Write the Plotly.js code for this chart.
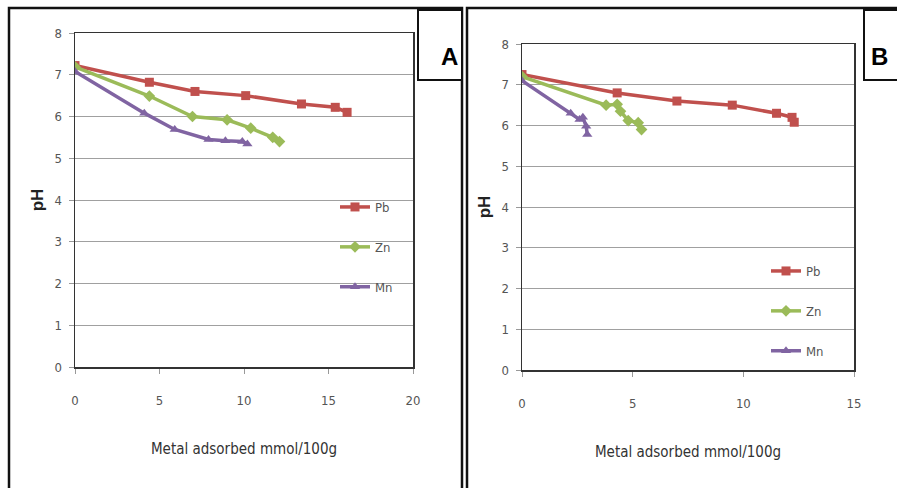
<!DOCTYPE html>
<html>
<head>
<meta charset="utf-8">
<script src="https://cdn.plot.ly/plotly-3.0.1.min.js"></script>
<style>html,body{margin:0;padding:0;background:#fff;}#chart{width:897px;height:488px;}</style>
</head>
<body>
<div id="chart"></div>
<script>
// ---- Data ----
const seriesNames = ["Pb", "Zn", "Mn"];
const seriesColors = ["#C0504D", "#9BBB59", "#8064A2"];
const seriesSymbols = ["square", "diamond", "triangle-up"];

// Panel A
const pbA_x = [0, 4.4, 7.1, 10.1, 13.4, 15.4, 16.1];
const pbA_y = [7.22, 6.82, 6.6, 6.5, 6.3, 6.22, 6.1];
const znA_x = [0, 4.4, 6.95, 9.0, 10.4, 11.7, 12.1];
const znA_y = [7.19, 6.49, 6.0, 5.92, 5.72, 5.5, 5.4];
const mnA_x = [0, 4.1, 5.9, 7.9, 8.9, 9.9, 10.2];
const mnA_y = [7.08, 6.08, 5.69, 5.45, 5.42, 5.4, 5.34];

// Panel B
const pbB_x = [0, 4.3, 7.0, 9.5, 11.5, 12.2, 12.3];
const pbB_y = [7.25, 6.8, 6.6, 6.5, 6.3, 6.2, 6.08];
const znB_x = [0, 3.8, 4.3, 4.45, 4.8, 5.25, 5.4];
const znB_y = [7.2, 6.5, 6.52, 6.35, 6.12, 6.07, 5.9];
const mnB_x = [0, 2.2, 2.6, 2.75, 2.9, 2.95];
const mnB_y = [7.1, 6.3, 6.15, 6.2, 5.98, 5.78];

const xTitle = "Metal adsorbed mmol/100g";
const yTitle = "pH";
const panelLabels = ["A", "B"];

// ---- Layout helpers ----
const W = 897, H = 488;
const px = x => x / W;
const py = y => 1 - y / H;
const FONT = "'Liberation Sans Narrow', 'DejaVu Sans Condensed', 'Liberation Sans', sans-serif";

function mk(xs, ys, i, ax, lg, show) {
  return {
    x: xs, y: ys, name: seriesNames[i], type: "scatter", mode: "lines+markers",
    xaxis: ax.x, yaxis: ax.y, legend: lg, legendgroup: lg + seriesNames[i], showlegend: show,
    line: {color: seriesColors[i], width: 3.5},
    marker: {symbol: seriesSymbols[i], size: 9, color: seriesColors[i]}
  };
}
const axA = {x: "x", y: "y"}, axB = {x: "x2", y: "y2"};
const data = [
  mk(pbA_x, pbA_y, 0, axA, "legend", true),
  mk(znA_x, znA_y, 1, axA, "legend", true),
  mk(mnA_x, mnA_y, 2, axA, "legend", true),
  mk(pbB_x, pbB_y, 0, axB, "legend2", true),
  mk(znB_x, znB_y, 1, axB, "legend2", true),
  mk(mnB_x, mnB_y, 2, axB, "legend2", true)
];

function xax(domain, range, anchor) {
  return {
    domain: domain, range: range, anchor: anchor, dtick: 5, tick0: 0,
    showgrid: false, zeroline: false, showline: true, mirror: true,
    linecolor: "#333", linewidth: 1.5, ticks: "outside", ticklen: 5, tickcolor: "#999",
    ticklabelstandoff: 16,
    tickfont: {family: FONT, size: 13, color: "#555"},
    title: {text: xTitle, font: {family: FONT, size: 15, color: "#333"}, standoff: 36},
    automargin: false, fixedrange: true
  };
}
function yax(domain, anchor) {
  return {
    domain: domain, range: [0, 8], anchor: anchor, dtick: 1, tick0: 0,
    showgrid: true, gridcolor: "#a0a0a0", gridwidth: 1, zeroline: false,
    showline: true, mirror: true, linecolor: "#333", linewidth: 1.5,
    ticks: "outside", ticklen: 5, tickcolor: "#999", ticklabelstandoff: 4,
    tickfont: {family: FONT, size: 13, color: "#555"},
    title: {text: yTitle, font: {family: "'Liberation Sans', Arial, sans-serif", size: 17, color: "#222", weight: "bold"}, standoff: 6},
    automargin: false, fixedrange: true
  };
}

const legendCommon = {
  bgcolor: "rgba(0,0,0,0)", borderwidth: 0, itemwidth: 30, tracegroupgap: 20,
  font: {family: FONT, size: 13, color: "#555"}, xanchor: "left", yanchor: "top"
};

const layout = {
  width: W, height: H, margin: {l: 0, r: 0, t: 0, b: 0},
  paper_bgcolor: "#fff", plot_bgcolor: "#fff",
  showlegend: true,
  xaxis: xax([px(75), px(413)], [0, 20], "y"),
  yaxis: yax([py(367), py(33)], "x"),
  xaxis2: xax([px(522), px(854)], [0, 15], "y2"),
  yaxis2: yax([py(370), py(44)], "x2"),
  legend: Object.assign({}, legendCommon, {x: px(335), y: py(192)}),
  legend2: Object.assign({}, legendCommon, {x: px(766), y: py(256)}),
  shapes: [
    // outer frame panel A
    {type: "rect", xref: "paper", yref: "paper", x0: px(9), x1: px(462), y0: py(500), y1: py(8), line: {color: "#111", width: 2.5}},
    // outer frame panel B
    {type: "rect", xref: "paper", yref: "paper", x0: px(467), x1: px(905), y0: py(500), y1: py(8), line: {color: "#111", width: 2.5}},
    // label boxes
    {type: "rect", xref: "paper", yref: "paper", x0: px(418), x1: px(462), y0: py(80), y1: py(10), line: {color: "#111", width: 2}, fillcolor: "#fff"},
    {type: "rect", xref: "paper", yref: "paper", x0: px(864), x1: px(905), y0: py(80), y1: py(10), line: {color: "#111", width: 2}, fillcolor: "#fff"}
  ],
  annotations: [
    {text: "<b>" + panelLabels[0] + "</b>", xref: "paper", yref: "paper", x: px(449), y: py(41), showarrow: false,
     font: {family: "'Liberation Sans', Arial, sans-serif", size: 24, color: "#000"}},
    {text: "<b>" + panelLabels[1] + "</b>", xref: "paper", yref: "paper", x: px(890), y: py(41), showarrow: false,
     font: {family: "'Liberation Sans', Arial, sans-serif", size: 24, color: "#000"}}
  ]
};

Plotly.newPlot("chart", data, layout, {displayModeBar: false, staticPlot: true});
</script>
</body>
</html>
